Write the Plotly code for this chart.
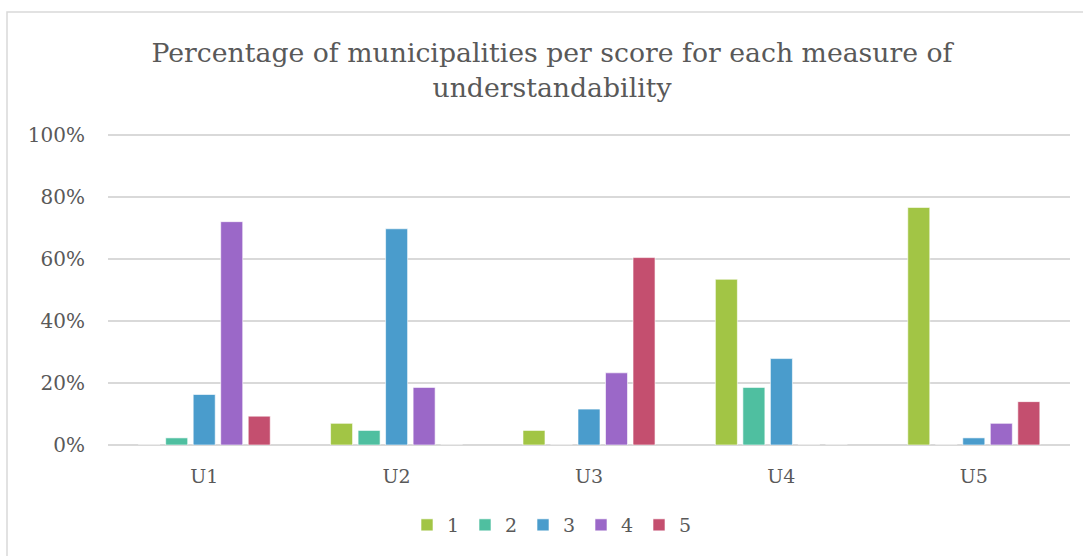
import plotly.graph_objects as go

categories = ["U1", "U2", "U3", "U4", "U5"]
score_names = ["1", "2", "3", "4", "5"]
score1 = [0.0, 7.0, 4.7, 53.5, 76.7]
score2 = [2.3, 4.7, 0.0, 18.6, 0.0]
score3 = [16.3, 69.8, 11.6, 27.9, 2.3]
score4 = [72.1, 18.6, 23.3, 0.0, 7.0]
score5 = [9.3, 0.0, 60.5, 0.0, 14.0]
series = [score1, score2, score3, score4, score5]
colors = ["#A2C545", "#4FBFA0", "#4A9CCC", "#9B68C8", "#C44F6F"]
y_ticks = [0, 20, 40, 60, 80, 100]
y_tick_labels = ["0%", "20%", "40%", "60%", "80%", "100%"]

FONT = "DejaVu Serif"
GRAY = "#595959"

fig = go.Figure()
for name, vals, col in zip(score_names, series, colors):
    fig.add_trace(go.Bar(
        x=categories, y=vals, name=name,
        marker=dict(color=col, line=dict(color="rgba(255,255,255,0.6)", width=1)),
    ))

W, H = 1083, 556
L, R, T, B = 108, 13, 134, 111
pw, ph = W - L - R, H - T - B

def px(x):
    return (x - L) / pw

def py(y):
    return (H - B - y) / ph

fig.update_layout(
    width=W, height=H,
    margin=dict(l=L, r=R, t=T, b=B),
    paper_bgcolor="white", plot_bgcolor="white",
    barmode="group", bargap=0.285, bargroupgap=0.2,
    title=dict(
        text="Percentage of municipalities per score for each measure of<br>understandability",
        xref="container", yref="container",
        x=552 / W, xanchor="center", y=1 - 62 / H, yanchor="middle",
        font=dict(family=FONT, size=26.7, color=GRAY),
    ),
    font=dict(family=FONT, color=GRAY),
    legend=dict(
        orientation="h", x=px(552), xanchor="center", y=py(525), yanchor="middle",
        font=dict(family=FONT, size=19, color=GRAY),
        itemwidth=30, traceorder="normal",
        entrywidth=13, entrywidthmode="pixels",
    ),
    showlegend=True,
)
fig.update_xaxes(
    showgrid=False, showline=False, ticks="", ticklabelstandoff=18,
    tickfont=dict(family=FONT, size=19, color=GRAY),
)
fig.update_yaxes(
    range=[0, 100.4], tickvals=y_ticks, ticktext=y_tick_labels,
    showgrid=True, gridcolor="#D9D9D9", gridwidth=1.5,
    zeroline=True, zerolinecolor="#D9D9D9", zerolinewidth=1.5,
    showline=False, ticks="", ticklabelstandoff=22,
    tickfont=dict(family=FONT, size=20, color=GRAY),
)
fig.add_shape(
    type="rect", xref="paper", yref="paper",
    x0=px(7), x1=px(1100), y0=py(12), y1=py(600),
    line=dict(color="#D9D9D9", width=1.5), fillcolor="rgba(0,0,0,0)", layer="below",
)
fig.write_html("out.html", config={"displayModeBar": False},
               post_script="document.body.style.margin='0';")
